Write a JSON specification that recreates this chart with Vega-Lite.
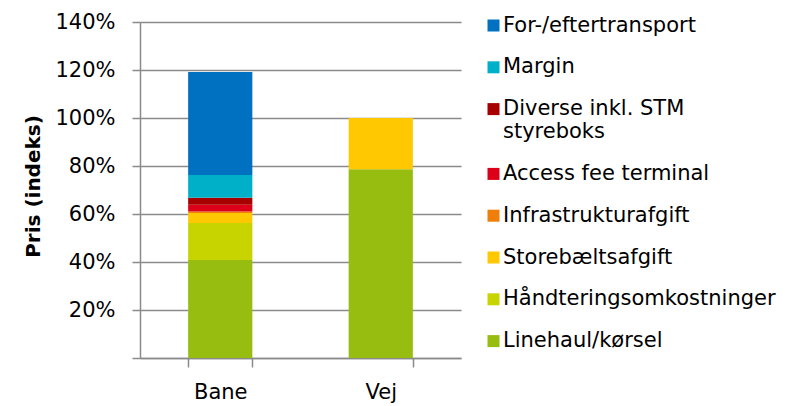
{
  "$schema": "https://vega.github.io/schema/vega-lite/v6.json",
  "width": 321,
  "height": 336,
  "autosize": {"type": "none"},
  "padding": {"left": 140, "top": 22, "right": 325, "bottom": 48},
  "background": "white",
  "config": {
    "view": {"stroke": null},
    "font": "DejaVu Sans"
  },
  "data": {
    "values": [
      {"mode": "Bane", "kat": "Linehaul/kørsel", "o": 1, "v": 0.408},
      {"mode": "Bane", "kat": "Håndteringsomkostninger", "o": 2, "v": 0.155},
      {"mode": "Bane", "kat": "Storebæltsafgift", "o": 3, "v": 0.041},
      {"mode": "Bane", "kat": "Infrastrukturafgift", "o": 4, "v": 0.006},
      {"mode": "Bane", "kat": "Access fee terminal", "o": 5, "v": 0.029},
      {"mode": "Bane", "kat": "Diverse inkl. STM styreboks", "o": 6, "v": 0.029},
      {"mode": "Bane", "kat": "Margin", "o": 7, "v": 0.0945},
      {"mode": "Bane", "kat": "For-/eftertransport", "o": 8, "v": 0.4295},
      {"mode": "Vej", "kat": "Linehaul/kørsel", "o": 1, "v": 0.786},
      {"mode": "Vej", "kat": "Storebæltsafgift", "o": 3, "v": 0.214}
    ]
  },
  "mark": {"type": "bar"},
  "encoding": {
    "x": {
      "field": "mode",
      "type": "nominal",
      "sort": ["Bane", "Vej"],
      "scale": {"paddingInner": 0.6, "paddingOuter": 0.3},
      "axis": {
        "title": null,
        "labelAngle": 0,
        "labelFont": "DejaVu Sans",
        "labelFontSize": 21,
        "labelColor": "#000000",
        "labelPadding": 14,
        "domainColor": "#8a8a8a",
        "domainWidth": 1.5,
        "tickColor": "#8a8a8a",
        "tickWidth": 1.5,
        "tickSize": 9,
        "tickBand": "extent"
      }
    },
    "y": {
      "field": "v",
      "type": "quantitative",
      "stack": "zero",
      "scale": {"domain": [0, 1.4], "nice": false},
      "axis": {
        "title": "Pris (indeks)",
        "titleFont": "DejaVu Sans",
        "titleFontSize": 20,
        "titleFontWeight": "bold",
        "titleColor": "#000000",
        "titleAngle": -90,
        "titleX": -107,
        "titleY": 164,
        "titleAlign": "center",
        "titleBaseline": "middle",
        "values": [0, 0.2, 0.4, 0.6, 0.8, 1.0, 1.2, 1.4],
        "format": ".0%",
        "labelExpr": "datum.value == 0 ? '' : datum.label",
        "labelFont": "DejaVu Sans",
        "labelFontSize": 21,
        "labelColor": "#000000",
        "labelPadding": 17,
        "domainColor": "#8a8a8a",
        "domainWidth": 1.5,
        "tickColor": "#8a8a8a",
        "tickWidth": 1.5,
        "tickSize": 8,
        "grid": true,
        "gridColor": "#8a8a8a",
        "gridWidth": 1.5
      }
    },
    "order": {"field": "o", "type": "quantitative", "sort": "ascending"},
    "color": {
      "field": "kat",
      "type": "nominal",
      "scale": {
        "domain": ["For-/eftertransport", "Margin", "Diverse inkl. STM styreboks", "Access fee terminal", "Infrastrukturafgift", "Storebæltsafgift", "Håndteringsomkostninger", "Linehaul/kørsel"],
        "range": ["#0070C0", "#00B0C8", "#A80000", "#DC0018", "#F07F09", "#FFC800", "#C8D400", "#97BD11"]
      },
      "legend": {
        "title": null,
        "orient": "none",
        "legendX": 343,
        "legendY": -7,
        "padding": 0,
        "symbolType": "square",
        "symbolSize": 144,
        "symbolStrokeWidth": 0,
        "symbolOpacity": 1,
        "labelFont": "DejaVu Sans",
        "labelFontSize": 21,
        "labelColor": "#000000",
        "labelOffset": -1,
        "labelLimit": 400,
        "rowPadding": 19.8,
        "labelExpr": "datum.label == 'Diverse inkl. STM styreboks' ? ['Diverse inkl. STM', 'styreboks'] : datum.label"
      }
    }
  }
}
